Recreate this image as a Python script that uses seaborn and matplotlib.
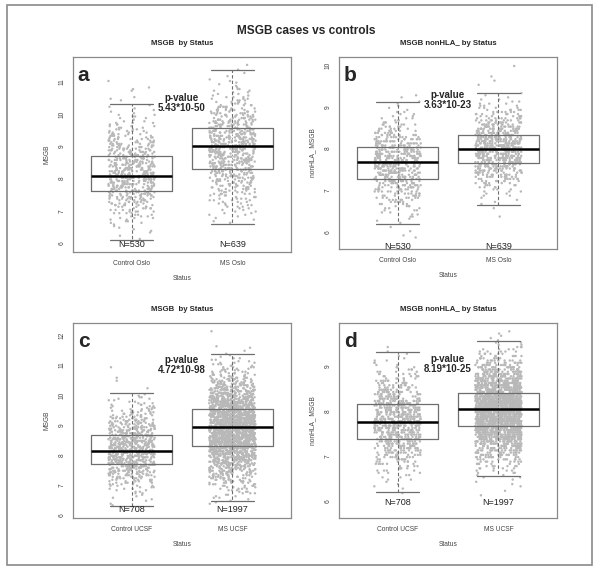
#!/usr/bin/env python3
"""MSGB cases vs controls: boxplots with jittered points, four panels."""
import matplotlib
matplotlib.use("Agg")
import matplotlib.pyplot as plt
import numpy as np
import pandas as pd
import seaborn as sns
from matplotlib.patches import Rectangle
from matplotlib.ticker import MultipleLocator

# ---- values -------------------------------------------------------------
panel_letters = ["a", "b", "c", "d"]
panel_titles = ["MSGB  by Status", "MSGB nonHLA_ by Status",
                "MSGB  by Status", "MSGB nonHLA_ by Status"]
y_labels = ["MSGB", "nonHLA_ MSGB", "MSGB", "nonHLA_ MSGB"]
categories = [["Control Oslo", "MS Oslo"], ["Control Oslo", "MS Oslo"],
              ["Control UCSF", "MS UCSF"], ["Control UCSF", "MS UCSF"]]
p_values = ["5.43*10-50", "3.63*10-23", "4.72*10-98", "8.19*10-25"]
n_obs = [[530, 639], [530, 639], [708, 1997], [708, 1997]]

q1 = [[7.60, 8.31], [7.28, 7.66], [7.70, 8.30], [7.38, 7.66]]
medians = [[8.09, 9.00], [7.68, 7.98], [8.12, 8.92], [7.75, 8.04]]
q3 = [[8.71, 9.57], [8.04, 8.33], [8.66, 9.53], [8.15, 8.41]]
whisker_lo = [[6.10, 6.60], [6.20, 6.66], [6.30, 6.46], [6.19, 6.56]]
whisker_hi = [[10.31, 11.37], [9.12, 9.34], [10.06, 11.38], [9.32, 9.55]]

# point clouds, estimated from the picture as counts per 0.05-wide value bin
BIN = 0.05
first_bin = [[6.125, 6.625], [5.875, 6.375], [6.325, 6.375], [6.175, 6.125]]
ctrl_oslo = [1, 0, 1, 0, 1, 1, 1, 1, 1, 1, 2, 2, 2, 3, 3, 3, 4, 4, 4, 5, 5, 6, 6,
             7, 7, 8, 8, 9, 9, 10, 10, 11, 11, 12, 12, 12, 12, 13, 13, 13, 13, 13,
             13, 13, 12, 12, 12, 12, 11, 11, 11, 10, 10, 10, 9, 9, 8, 8, 8, 7, 7,
             6, 6, 6, 5, 5, 4, 4, 4, 3, 3, 3, 3, 2, 2, 2, 2, 2, 1, 1, 1, 1, 1, 1,
             0, 0, 1, 1, 1, 0, 0, 0, 1, 1, 1, 0, 0, 0, 1]
ms_oslo = [1, 1, 1, 1, 1, 2, 2, 2, 2, 2, 3, 3, 3, 3, 4, 4, 4, 4, 5, 5, 5, 6, 6, 7,
           7, 7, 8, 8, 9, 9, 9, 10, 10, 11, 11, 11, 12, 12, 12, 13, 13, 13, 13, 13,
           13, 14, 14, 14, 14, 14, 14, 13, 13, 13, 13, 12, 12, 12, 11, 11, 10, 10,
           9, 9, 9, 8, 8, 7, 7, 6, 6, 5, 5, 4, 4, 4, 3, 3, 3, 2, 2, 2, 2, 2, 1, 1,
           1, 1, 1, 1, 0, 1, 0, 1, 0, 1, 0, 0, 1]
ctrl_oslo_nonhla = [1, 1, 0, 1, 0, 1, 0, 1, 1, 1, 2, 2, 2, 3, 3, 4, 4, 5, 6, 7, 7,
                    8, 9, 10, 11, 12, 13, 14, 15, 16, 16, 17, 18, 18, 18, 19, 19,
                    19, 18, 18, 17, 17, 16, 15, 14, 13, 12, 11, 10, 9, 8, 7, 6, 5,
                    5, 4, 3, 3, 2, 2, 2, 1, 1, 1, 1, 1, 0, 1, 1]
ms_oslo_nonhla = [1, 0, 0, 0, 1, 0, 1, 1, 1, 1, 2, 2, 3, 3, 4, 5, 6, 7, 9, 10, 11,
                  13, 15, 16, 18, 19, 21, 22, 23, 24, 25, 25, 26, 26, 25, 25, 24,
                  23, 22, 21, 19, 18, 16, 15, 13, 12, 10, 9, 8, 7, 6, 5, 4, 3, 3,
                  2, 2, 1, 1, 1, 0, 0, 0, 1, 0, 1, 0, 1, 0, 0, 0, 0, 1]
ctrl_ucsf = [1, 1, 0, 1, 1, 1, 1, 1, 2, 2, 2, 3, 3, 4, 4, 5, 6, 6, 7, 8, 9, 10, 11,
             12, 13, 14, 14, 15, 16, 17, 18, 18, 19, 19, 20, 20, 20, 20, 20, 19, 19,
             19, 18, 18, 17, 17, 16, 16, 15, 14, 13, 13, 12, 11, 10, 10, 9, 8, 8, 7,
             6, 6, 5, 5, 4, 4, 3, 3, 3, 2, 2, 2, 2, 1, 1, 0, 0, 0, 1, 0, 0, 0, 0, 1,
             0, 1, 0, 0, 0, 0, 0, 0, 1]
ms_ucsf = [1, 1, 1, 1, 2, 2, 2, 3, 3, 3, 4, 4, 5, 5, 6, 7, 7, 8, 9, 10, 11, 12, 13,
           14, 15, 16, 17, 19, 20, 22, 23, 24, 26, 27, 29, 30, 31, 33, 34, 35, 37,
           38, 39, 40, 41, 42, 42, 43, 43, 44, 44, 44, 44, 43, 43, 43, 42, 41, 41,
           40, 39, 37, 36, 35, 34, 32, 31, 29, 28, 27, 25, 24, 22, 21, 19, 18, 17,
           15, 14, 13, 12, 11, 10, 9, 8, 7, 7, 6, 5, 5, 4, 4, 3, 3, 3, 2, 2, 2, 1,
           1, 1, 0, 1, 0, 1, 1, 0, 0, 0, 0, 0, 0, 0, 0, 0, 1]
ctrl_ucsf_nonhla = [1, 0, 1, 1, 1, 1, 2, 2, 2, 3, 4, 4, 5, 6, 7, 8, 9, 10, 12, 13,
                    14, 16, 17, 18, 20, 21, 22, 23, 24, 24, 25, 25, 25, 25, 24, 24,
                    23, 22, 21, 20, 19, 18, 17, 15, 14, 13, 12, 11, 9, 8, 7, 6, 6,
                    5, 4, 3, 3, 2, 2, 2, 1, 1, 1, 1, 0, 1]
ms_ucsf_nonhla = [1, 0, 1, 0, 1, 1, 1, 1, 2, 2, 3, 4, 5, 6, 7, 8, 10, 12, 14, 17,
                  19, 22, 25, 29, 32, 36, 40, 43, 47, 51, 55, 58, 61, 64, 67, 69,
                  70, 71, 72, 71, 71, 69, 68, 65, 63, 59, 56, 52, 48, 45, 41, 37,
                  33, 29, 26, 23, 20, 17, 14, 12, 10, 8, 7, 6, 5, 4, 3, 2, 2, 1, 1,
                  1, 1, 1]
point_counts = [[ctrl_oslo, ms_oslo], [ctrl_oslo_nonhla, ms_oslo_nonhla],
                [ctrl_ucsf, ms_ucsf], [ctrl_ucsf_nonhla, ms_ucsf_nonhla]]

# ---- layout ------------------------------------------------------------------
W, H = 600, 576
AX_POS = [(73, 57, 291, 252), (339, 57, 557, 249),
          (73, 323, 291, 518), (339, 323, 557, 518)]   # pixel box: l, t, r, b
Y_LIMITS = [(5.72, 11.77), (5.60, 10.19), (5.90, 12.40), (5.62, 9.96)]
PVAL_Y = [0.765, 0.777, 0.785, 0.79]
N_Y = [0.036, 0.012, 0.046, 0.082]
FRAME = "#8a8a8a"
GREY = "#6e6e6e"


def panel_frame(i: int) -> pd.DataFrame:
    rows = []
    for cat, start, counts in zip(categories[i], first_bin[i], point_counts[i]):
        centres = start + BIN * np.arange(len(counts))
        rows.append(pd.DataFrame({"Status": cat, "value": np.repeat(centres, counts)}))
    return pd.concat(rows, ignore_index=True)


def draw_panel(fig, i: int) -> None:
    l, t, r, b = AX_POS[i]
    ax = fig.add_axes([l / W, 1 - b / H, (r - l) / W, (b - t) / H])

    df = panel_frame(i)
    sns.stripplot(data=df, x="Status", y="value", order=categories[i], jitter=0.23,
                  size=1.75, color="#b8b8b8", edgecolor="none", linewidth=0,
                  ax=ax, zorder=1)

    stats = [dict(med=m, q1=a, q3=c, whislo=lo, whishi=hi, fliers=[])
             for m, a, c, lo, hi in zip(medians[i], q1[i], q3[i],
                                        whisker_lo[i], whisker_hi[i])]
    ax.vlines([0, 1], q1[i], q3[i], colors="#8a8a8a", lw=0.6,
              linestyles=(0, (2, 2)), zorder=2)
    ax.bxp(stats, positions=[0, 1], widths=0.81, capwidths=0.42, showfliers=False,
           manage_ticks=False, zorder=3,
           boxprops=dict(color=GREY, lw=0.9),
           whiskerprops=dict(color=GREY, lw=0.8, ls=(0, (3, 2))),
           capprops=dict(color=GREY, lw=0.9),
           medianprops=dict(color="black", lw=1.8))

    ax.set_xlim(-0.58, 1.58)
    ax.set_ylim(*Y_LIMITS[i])
    ax.yaxis.set_major_locator(MultipleLocator(1))
    ax.set_xticks([0, 1])
    ax.set_xticklabels(categories[i])
    ax.tick_params(axis="both", labelsize=4.8, length=3, width=0.7,
                   color=FRAME, labelcolor="#444444", pad=2.5)
    ax.tick_params(axis="y", labelrotation=90)
    for lab in ax.get_yticklabels():
        lab.set_va("center")
    for sp in ax.spines.values():
        sp.set_color(FRAME)
        sp.set_linewidth(0.9)

    ax.set_xlabel("Status", fontsize=4.8, color="#444444", labelpad=6)
    ax.set_ylabel(y_labels[i], fontsize=4.8, color="#444444", labelpad=6)
    ax.set_title(panel_titles[i], fontsize=5.6, fontweight="bold", pad=8.5)

    ax.text(0.022, 0.955, panel_letters[i], transform=ax.transAxes, ha="left",
            va="top", fontsize=15, fontweight="bold")
    ax.text(0.5, PVAL_Y[i], "p-value\n" + p_values[i], transform=ax.transAxes,
            ha="center", va="center", fontsize=7, fontweight="bold",
            linespacing=1.0, zorder=5)
    trans = ax.get_xaxis_transform()
    for x, n in zip([0, 1], n_obs[i]):
        ax.text(x, N_Y[i], f"N={n}", transform=trans, ha="center", va="center",
                fontsize=6.5, color="#222222", zorder=5)


def main() -> None:
    sns.set_theme(style="white")
    plt.rcParams["font.family"] = ["Liberation Sans", "DejaVu Sans"]
    fig = plt.figure(figsize=(W / 100, H / 100), dpi=100)
    fig.patches.append(Rectangle((7 / W, 1 - 565 / H), 585 / W, 560 / H,
                                 transform=fig.transFigure, fill=False,
                                 ec=FRAME, lw=1.2))
    fig.text(306.5 / W, 1 - 31 / H, "MSGB cases vs controls", ha="center",
             va="center", fontsize=8.6, fontweight="bold")
    for i in range(4):
        draw_panel(fig, i)
    fig.savefig("out.png", dpi=100)


if __name__ == "__main__":
    main()
